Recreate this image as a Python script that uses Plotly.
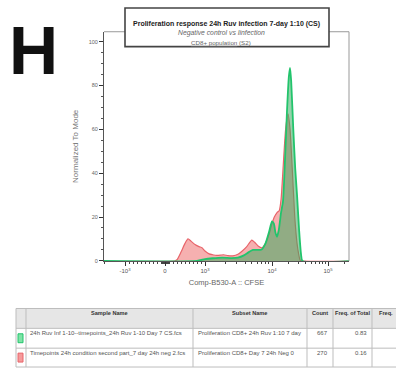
import numpy as np
import plotly.graph_objects as go

# ---------------- data ----------------
# CFSE intensity (Comp-B530-A) and normalized-to-mode histogram heights
neg_cfse = [-3000, 250, 300, 400, 500, 575, 650, 750, 850, 925, 1000, 1150, 1300, 1500,
            1700, 1900, 2200, 2600, 3100, 3600, 4200, 5000, 5500, 6200, 7100, 8000, 9000,
            10000, 11000, 12300, 13500, 14500, 16000, 17500, 19300, 21000, 23000, 25500,
            28000, 30000, 31600, 34000, 300000]
neg_mode = [0, 0, 0.5, 4, 8, 10, 9, 7.5, 6.5, 6, 4.5, 3.2, 2.8, 2.5,
            2.6, 2.8, 2.4, 2.3, 3, 4.5, 6.5, 9.5, 8.5, 6.8, 6, 8, 12,
            17, 20, 22, 23, 28, 45, 60, 67, 60, 42, 20,
            8, 3, 0.5, 0, 0]

inf_cfse = [-3000, 800, 1000, 1300, 1800, 2500, 3100, 3800, 4500, 5200, 6000, 7000,
            8000, 9000, 10000, 10800, 11500, 12300, 13200, 14500, 15700, 17000, 18500,
            20000, 21000, 22000, 24000, 26000, 28000, 30500, 33000, 35000, 300000]
inf_mode = [0, 0, 0.8, 1.2, 1.5, 1.3, 1.5, 2.5, 4, 5, 5, 5.2,
            8, 13, 18, 17, 13, 11, 14, 22, 27, 45, 68,
            84, 88, 82, 60, 42, 30, 14, 3, 0, 0]

x_tick_values = [-1000, 0, 1000, 10000, 100000]
x_tick_labels = ["-10<sup>3</sup>", "0", "10<sup>3</sup>", "10<sup>4</sup>", "10<sup>5</sup>"]
y_tick_values = [0, 20, 40, 60, 80, 100]

table_header = ["Sample Name", "Subset Name", "Count", "Freq. of Total", "Freq."]
sample_names = ["24h Ruv Inf 1-10--timepoints_24h Ruv 1-10 Day 7 CS.fcs",
                "Timepoints 24h condition second part_7 day 24h neg 2.fcs"]
subset_names = ["Proliferation CD8+ 24h Ruv 1:10 7 day",
                "Proliferation CD8+ Day 7 24h Neg 0"]
counts = [667, 270]
freq_total = [0.83, 0.16]

title_lines = ["Proliferation response 24h Ruv infection 7-day 1:10 (CS)",
               "Negative control vs Iinfection",
               "CD8+ population"]
title_gate = "(S2)"

# ---------------- display scale (biexponential-like) ----------------
def to_display(v):
    v = np.asarray(v, dtype=float)
    a = np.abs(v)
    lg = np.log10(np.maximum(a, 1.0))
    log_part = np.where(lg <= 4, 1 + (lg - 3) * 1.675, 2.675 + (lg - 4) * 1.4)
    out = np.where(a <= 1000, a / 1000.0, log_part)
    return np.sign(v) * out

minor_vals = ([-s * m for s in (10, 100) for m in range(1, 10)] + [-2000] +
              [s * m for s in (10, 100) for m in range(1, 10)] +
              [s * m for s in (1000, 10000) for m in range(2, 10)] + [200000])

W, H = 396, 372
def px(x):
    return x / W
def py(y):
    return 1 - y / H

FONT = "Liberation Sans"
NEG_LINE = "#e8646a"
NEG_FILL = "rgba(238,112,112,0.55)"
INF_LINE = "#22c46c"
INF_FILL = "rgba(52,168,92,0.52)"

fig = go.Figure()
fig.add_trace(go.Scatter(x=to_display(neg_cfse), y=neg_mode, mode="lines",
                         line=dict(color=NEG_LINE, width=1.2, shape="spline", smoothing=0.6),
                         fill="tozeroy", fillcolor=NEG_FILL, hoverinfo="skip"))
fig.add_trace(go.Scatter(x=to_display(inf_cfse), y=inf_mode, mode="lines",
                         line=dict(color=INF_LINE, width=1.8, shape="spline", smoothing=0.6),
                         fill="tozeroy", fillcolor=INF_FILL, hoverinfo="skip"))

fig.update_layout(
    width=W, height=H, margin=dict(l=0, r=0, t=0, b=0),
    paper_bgcolor="white", plot_bgcolor="white", showlegend=False,
    font=dict(family=FONT, color="#555"),
)
fig.update_xaxes(
    domain=[px(104), px(349)], range=[-1.525, 4.6],
    tickmode="array", tickvals=to_display(x_tick_values), ticktext=x_tick_labels,
    tickfont=dict(size=6, color="#555"), ticks="outside", ticklen=4, tickwidth=1.2,
    tickcolor="#333", showline=True, linecolor="#555", linewidth=1, showgrid=False,
    zeroline=False,
    minor=dict(tickmode="array", tickvals=list(to_display(minor_vals)), ticks="outside",
               ticklen=2, tickcolor="#444", tickwidth=1),
    title=dict(text="Comp-B530-A :: CFSE", font=dict(size=7.5, color="#666"), standoff=6),
)
fig.update_yaxes(
    domain=[py(263), py(32)], range=[0, 104.5],
    tickmode="array", tickvals=y_tick_values,
    tickfont=dict(size=5.5, color="#666"), ticks="outside", ticklen=4, tickwidth=1.2,
    tickcolor="#333", showline=True, linecolor="#555", linewidth=1, showgrid=False,
    zeroline=False,
    minor=dict(dtick=5, ticks="outside", ticklen=2, tickcolor="#555", tickwidth=1),
    title=dict(text="Normalized To Mode", font=dict(size=8, color="#777"), standoff=8),
)

shapes = []
annotations = []

# thin frame on top and right of the plot area
shapes.append(dict(type="line", xref="paper", yref="paper", x0=px(104), x1=px(349),
                   y0=py(32), y1=py(32), line=dict(color="#999", width=1)))
shapes.append(dict(type="line", xref="paper", yref="paper", x0=px(349), x1=px(349),
                   y0=py(32), y1=py(263), line=dict(color="#999", width=1)))

# title box
shapes.append(dict(type="rect", xref="paper", yref="paper", x0=px(125), x1=px(329),
                   y0=py(47), y1=py(8), fillcolor="white",
                   line=dict(color="#444", width=1.6)))
annotations.append(dict(text="<b>" + title_lines[0] + "</b>", x=px(226), y=py(18),
                        xref="paper", yref="paper", xanchor="center", showarrow=False,
                        font=dict(size=7, color="#222", family=FONT)))
annotations.append(dict(text="<i>" + title_lines[1] + "</i>", x=px(222), y=py(27.5),
                        xref="paper", yref="paper", xanchor="center", showarrow=False,
                        font=dict(size=6.8, color="#666", family=FONT)))
annotations.append(dict(text="<u>" + title_lines[2] + "</u> " + title_gate, x=px(221), y=py(37),
                        xref="paper", yref="paper", xanchor="center", showarrow=False,
                        font=dict(size=6.2, color="#666", family=FONT)))

# panel letter
annotations.append(dict(text="<b>H</b>", x=px(33), y=py(50), xref="paper", yref="paper",
                        xanchor="center", yanchor="middle", showarrow=False,
                        font=dict(size=68, color="#111", family=FONT)))

# ---------------- sample table ----------------
col_edges = [16, 26, 193, 307, 333, 372, 400]
row_edges = [311, 331, 351, 370]
shapes.append(dict(type="rect", xref="paper", yref="paper", x0=px(16), x1=px(400),
                   y0=py(331), y1=py(311), fillcolor="#e6e6e6", line=dict(width=0)))
for yy in row_edges:
    shapes.append(dict(type="line", xref="paper", yref="paper", x0=px(16), x1=px(400),
                       y0=py(yy), y1=py(yy), line=dict(color="#bdbdbd", width=1)))
for xx in col_edges[:-1]:
    shapes.append(dict(type="line", xref="paper", yref="paper", x0=px(xx), x1=px(xx),
                       y0=py(311), y1=py(370), line=dict(color="#bdbdbd", width=1)))

header_x = [109, 250, 320, 352, 377]
header_anchor = ["center", "center", "center", "center", "left"]
for text, hx, anc in zip(table_header, header_x, header_anchor):
    annotations.append(dict(text="<b>" + text + "</b>", x=px(hx), y=py(321), xref="paper",
                            yref="paper", xanchor=anc, showarrow=False,
                            font=dict(size=5.6, color="#333", family=FONT)))

swatch_fill = ["#7fe3a6", "#f59a9a"]
swatch_line = [INF_LINE, NEG_LINE]
row_mid = [341, 360.5]
for i in range(2):
    ym = row_mid[i]
    shapes.append(dict(type="rect", xref="paper", yref="paper", x0=px(18), x1=px(23),
                       y0=py(ym + 4.5), y1=py(ym - 4.5), fillcolor=swatch_fill[i],
                       line=dict(color=swatch_line[i], width=1)))
    annotations.append(dict(text=sample_names[i], x=px(28), y=py(ym), xref="paper",
                            yref="paper", xanchor="left", showarrow=False,
                            font=dict(size=6, color="#555", family=FONT)))
    annotations.append(dict(text=subset_names[i], x=px(196), y=py(ym), xref="paper",
                            yref="paper", xanchor="left", showarrow=False,
                            font=dict(size=6, color="#555", family=FONT)))
    annotations.append(dict(text=str(counts[i]), x=px(330), y=py(ym), xref="paper",
                            yref="paper", xanchor="right", showarrow=False,
                            font=dict(size=6, color="#555", family=FONT)))
    annotations.append(dict(text=f"{freq_total[i]:.2f}", x=px(369), y=py(ym), xref="paper",
                            yref="paper", xanchor="right", showarrow=False,
                            font=dict(size=6, color="#555", family=FONT)))

fig.update_layout(shapes=shapes, annotations=annotations)
fig.write_html("out.html")
